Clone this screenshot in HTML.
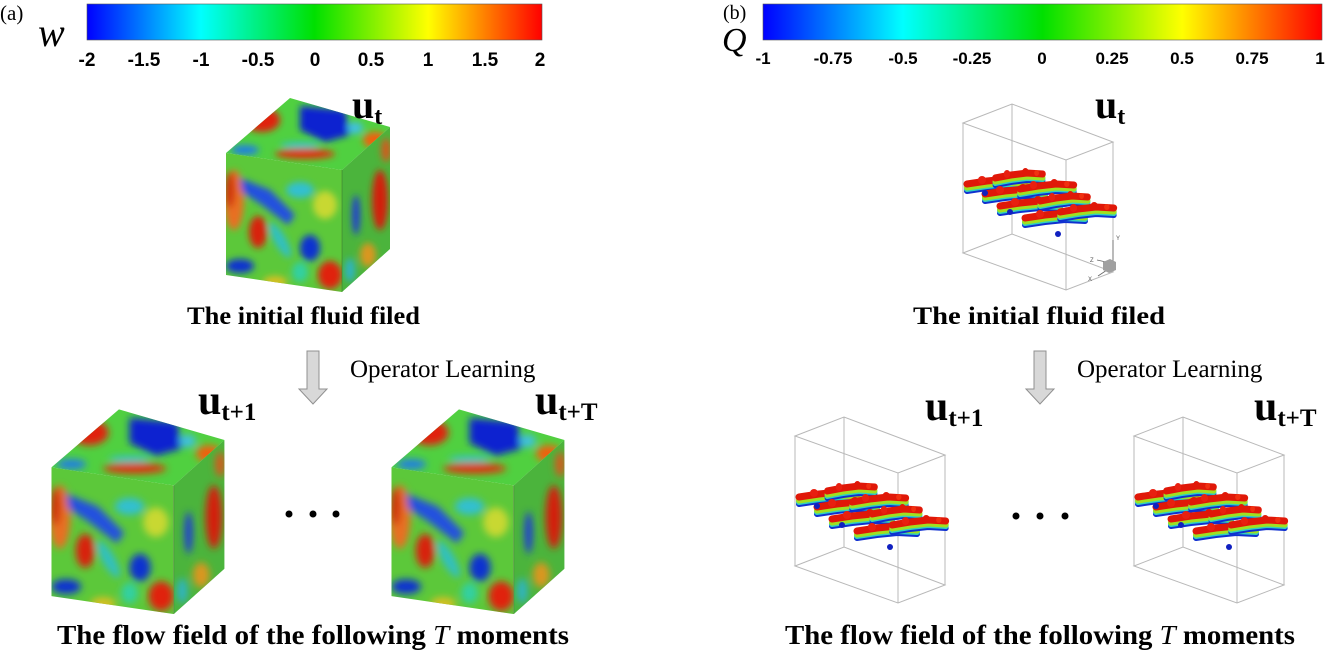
<!DOCTYPE html>
<html><head><meta charset="utf-8"><style>
html,body{margin:0;padding:0;background:#fff;}
svg{display:block;}
.ser{font-family:"Liberation Serif",serif;}
.b{font-weight:bold;}
.sans{font-family:"Liberation Sans",sans-serif;font-weight:bold;}
</style></head><body>
<svg width="1328" height="654" viewBox="0 0 1328 654" xmlns="http://www.w3.org/2000/svg">
<defs>
<linearGradient id="jet" x1="0" x2="1" y1="0" y2="0">
<stop offset="0" stop-color="#0000ff"/><stop offset="0.25" stop-color="#00ffff"/><stop offset="0.5" stop-color="#00e000"/><stop offset="0.75" stop-color="#ffff00"/><stop offset="1" stop-color="#ff0000"/>
</linearGradient>
<filter id="bl" x="-20%" y="-20%" width="140%" height="140%"><feGaussianBlur stdDeviation="3.5"/></filter>
<clipPath id="cf"><polygon points="226,153 342,170 342,292 226,275"/></clipPath>
<clipPath id="ct"><polygon points="226,153 290,98 390,127 342,170"/></clipPath>
<clipPath id="cr"><polygon points="342,170 390,127 390,249 342,292"/></clipPath>
<g id="cube">
 <g clip-path="url(#cf)">
  <rect x="220" y="140" width="130" height="160" fill="#5cc83a"/>
  <g filter="url(#bl)">
   <ellipse cx="234" cy="200" rx="10" ry="30" fill="#e87020"/>
   <ellipse cx="230" cy="190" rx="5" ry="18" fill="#d03010"/>
   <path d="M240 178 L270 190 L295 215 L288 225 L262 205 L242 192 Z" fill="#2050e0"/>
   <ellipse cx="300" cy="190" rx="14" ry="8" fill="#30c0d0"/>
   <ellipse cx="258" cy="232" rx="9" ry="16" fill="#d82010"/>
   <ellipse cx="280" cy="240" rx="6" ry="20" fill="#30c0c0" transform="rotate(-30 280 240)"/>
   <ellipse cx="310" cy="248" rx="10" ry="13" fill="#1030d0"/>
   <ellipse cx="330" cy="275" rx="12" ry="14" fill="#e02010"/>
   <ellipse cx="240" cy="266" rx="14" ry="7" fill="#1030d0"/>
   <ellipse cx="275" cy="282" rx="12" ry="6" fill="#d8c020"/>
   <ellipse cx="325" cy="205" rx="12" ry="14" fill="#c8d830"/>
   <ellipse cx="300" cy="272" rx="8" ry="10" fill="#30d0a0"/>
  </g>
 </g>
 <g clip-path="url(#ct)">
  <rect x="220" y="95" width="175" height="80" fill="#50d040"/>
  <g filter="url(#bl)">
   <path d="M300 106 L345 110 L350 135 L325 142 L300 130 Z" fill="#0a20d0"/>
   <ellipse cx="262" cy="120" rx="18" ry="12" fill="#e02010"/>
   <ellipse cx="305" cy="154" rx="30" ry="5" fill="#e03010"/>
   <ellipse cx="300" cy="145" rx="20" ry="3" fill="#30c0d0"/>
   <ellipse cx="245" cy="150" rx="14" ry="5" fill="#2080e0"/>
   <ellipse cx="375" cy="140" rx="12" ry="8" fill="#f06010"/>
   <ellipse cx="355" cy="128" rx="8" ry="6" fill="#40c0e0"/>
  </g>
 </g>
 <g clip-path="url(#cr)">
  <rect x="340" y="120" width="55" height="180" fill="#50c040"/>
  <g filter="url(#bl)">
   <ellipse cx="380" cy="200" rx="8" ry="30" fill="#e02010"/>
   <ellipse cx="356" cy="215" rx="4" ry="20" fill="#2040e0"/>
   <ellipse cx="368" cy="255" rx="8" ry="12" fill="#e8a020"/>
   <ellipse cx="386" cy="150" rx="5" ry="12" fill="#e06020"/>
   <ellipse cx="350" cy="270" rx="5" ry="12" fill="#30c0d0"/>
  </g>
  <rect x="340" y="120" width="55" height="180" fill="#000" opacity="0.06"/>
 </g>
 <line x1="342" y1="170" x2="342" y2="292" stroke="#304020" stroke-width="0.6" opacity="0.5"/>
</g>
<g id="tube">
 <path d="M0 0 L20 -3 L40 -5 L60 -4" stroke="#1030d0" stroke-width="6" transform="translate(0,5)"/>
 <path d="M0 0 L20 -3 L40 -5 L60 -4" stroke="#30d0c0" stroke-width="6" transform="translate(0,3)"/>
 <path d="M0 0 L20 -3 L40 -5 L60 -4" stroke="#a0e020" stroke-width="6" transform="translate(0,1.5)"/>
 <path d="M0 0 L20 -3 L40 -5 L60 -4" stroke="#e01808" stroke-width="7" transform="translate(0,-2)"/>
 <circle cx="15" cy="-6" r="4" fill="#e82010"/><circle cx="38" cy="-8" r="4" fill="#e01808"/><circle cx="52" cy="-7" r="3" fill="#f03010"/>
</g>
<g id="vort" fill="none" stroke-linecap="round">
 <use href="#tube" transform="translate(967,186)"/>
 <use href="#tube" transform="translate(995,180) scale(0.8,1)"/>
 <use href="#tube" transform="translate(985,196)"/>
 <use href="#tube" transform="translate(1020,191) scale(0.9,1)"/>
 <use href="#tube" transform="translate(1000,208)"/>
 <use href="#tube" transform="translate(1040,203) scale(0.8,1)"/>
 <use href="#tube" transform="translate(1025,220)"/>
 <use href="#tube" transform="translate(1060,214) scale(0.9,1)"/>
 <circle cx="985" cy="193" r="3" fill="#1020c0"/>
 <circle cx="1010" cy="212" r="3" fill="#1020c0"/>
 <circle cx="1058" cy="234" r="3" fill="#1020c0"/>
</g>
<g id="box" fill="none" stroke="#b8b8b8" stroke-width="1">
 <polygon points="963,123 1012,104 1113,142 1066,160"/>
 <polygon points="963,253 1012,234 1113,272 1066,290"/>
 <line x1="963" y1="123" x2="963" y2="253"/><line x1="1012" y1="104" x2="1012" y2="234"/>
 <line x1="1113" y1="142" x2="1113" y2="272"/><line x1="1066" y1="160" x2="1066" y2="290"/>
</g>
<g id="arrow"><polygon points="-6,0 6,0 6,38 14,38 0,53 -14,38 -6,38" fill="#d8d8d8" stroke="#909090" stroke-width="1"/></g>
</defs>

<!-- Panel a -->
<text x="0" y="20" class="ser" font-size="21">(a)</text>
<text x="38" y="46" class="ser" font-style="italic" font-size="40">w</text>
<rect x="87" y="4" width="455" height="36" fill="url(#jet)" stroke="#555" stroke-width="0.6"/>
<g class="sans" font-size="19" text-anchor="middle">
<text x="87" y="66">-2</text><text x="144" y="66">-1.5</text><text x="201" y="66">-1</text><text x="258" y="66">-0.5</text><text x="315" y="66">0</text><text x="371" y="66">0.5</text><text x="428" y="66">1</text><text x="485" y="66">1.5</text><text x="540" y="66">2</text>
</g>
<use href="#cube"/>
<text x="352" y="118" class="ser b" font-size="40">u<tspan font-size="24" dy="6">t</tspan></text>
<text x="187" y="324" class="ser b" font-size="25" textLength="233" lengthAdjust="spacingAndGlyphs">The initial fluid filed</text>
<use href="#arrow" transform="translate(313,351)"/>
<text x="350" y="377" class="ser" font-size="25">Operator Learning</text>
<use href="#cube" transform="translate(-187,306) scale(1.055)"/>
<use href="#cube" transform="translate(153,306) scale(1.055)"/>
<text x="198" y="414" class="ser b" font-size="42">u<tspan font-size="25" dy="6">t+1</tspan></text>
<text x="535" y="414" class="ser b" font-size="42">u<tspan font-size="25" dy="6">t+T</tspan></text>
<g fill="#000"><circle cx="289" cy="514" r="3.5"/><circle cx="313" cy="514" r="3.5"/><circle cx="336" cy="514" r="3.5"/></g>
<text x="57" y="644" class="ser b" font-size="27" textLength="512" lengthAdjust="spacingAndGlyphs">The flow field of the following <tspan font-style="italic" font-weight="normal">T</tspan> moments</text>

<!-- Panel b -->
<text x="723" y="19" class="ser" font-size="20">(b)</text>
<text x="722" y="51" class="ser" font-style="italic" font-size="34">Q</text>
<rect x="763" y="4" width="559" height="36" fill="url(#jet)" stroke="#555" stroke-width="0.6"/>
<g class="sans" font-size="17" text-anchor="middle">
<text x="763" y="64">-1</text><text x="833" y="64">-0.75</text><text x="903" y="64">-0.5</text><text x="972" y="64">-0.25</text><text x="1042" y="64">0</text><text x="1112" y="64">0.25</text><text x="1182" y="64">0.5</text><text x="1252" y="64">0.75</text><text x="1320" y="64">1</text>
</g>
<use href="#box"/>
<use href="#vort"/>
<g stroke="#666" stroke-width="0.8" fill="none"><line x1="1113" y1="240" x2="1113" y2="266"/><line x1="1113" y1="266" x2="1098" y2="276"/><line x1="1106" y1="262" x2="1097" y2="260"/></g>
<polygon points="1103,262 1110,259 1116,262 1116,270 1109,273 1103,270" fill="#a0a0a0"/>
<text x="1116" y="240" font-family="Liberation Sans" font-size="6" fill="#555">Y</text>
<text x="1090" y="262" font-family="Liberation Sans" font-size="6" fill="#555">Z</text>
<text x="1088" y="281" font-family="Liberation Sans" font-size="6" fill="#555">X</text>
<text x="1095" y="118" class="ser b" font-size="40">u<tspan font-size="24" dy="6">t</tspan></text>
<text x="913" y="324" class="ser b" font-size="25" textLength="252" lengthAdjust="spacingAndGlyphs">The initial fluid filed</text>
<use href="#arrow" transform="translate(1040,351)"/>
<text x="1077" y="377" class="ser" font-size="25">Operator Learning</text>
<use href="#box" transform="translate(-168,313)"/>
<use href="#vort" transform="translate(-168,313)"/>
<use href="#box" transform="translate(171,313)"/>
<use href="#vort" transform="translate(171,313)"/>
<text x="925" y="420" class="ser b" font-size="42">u<tspan font-size="25" dy="6">t+1</tspan></text>
<text x="1254" y="420" class="ser b" font-size="42">u<tspan font-size="25" dy="6">t+T</tspan></text>
<g fill="#000"><circle cx="1016" cy="516" r="3.5"/><circle cx="1040" cy="516" r="3.5"/><circle cx="1065" cy="516" r="3.5"/></g>
<text x="785" y="644" class="ser b" font-size="27" textLength="510" lengthAdjust="spacingAndGlyphs">The flow field of the following <tspan font-style="italic" font-weight="normal">T</tspan> moments</text>
</svg>
</body></html>
